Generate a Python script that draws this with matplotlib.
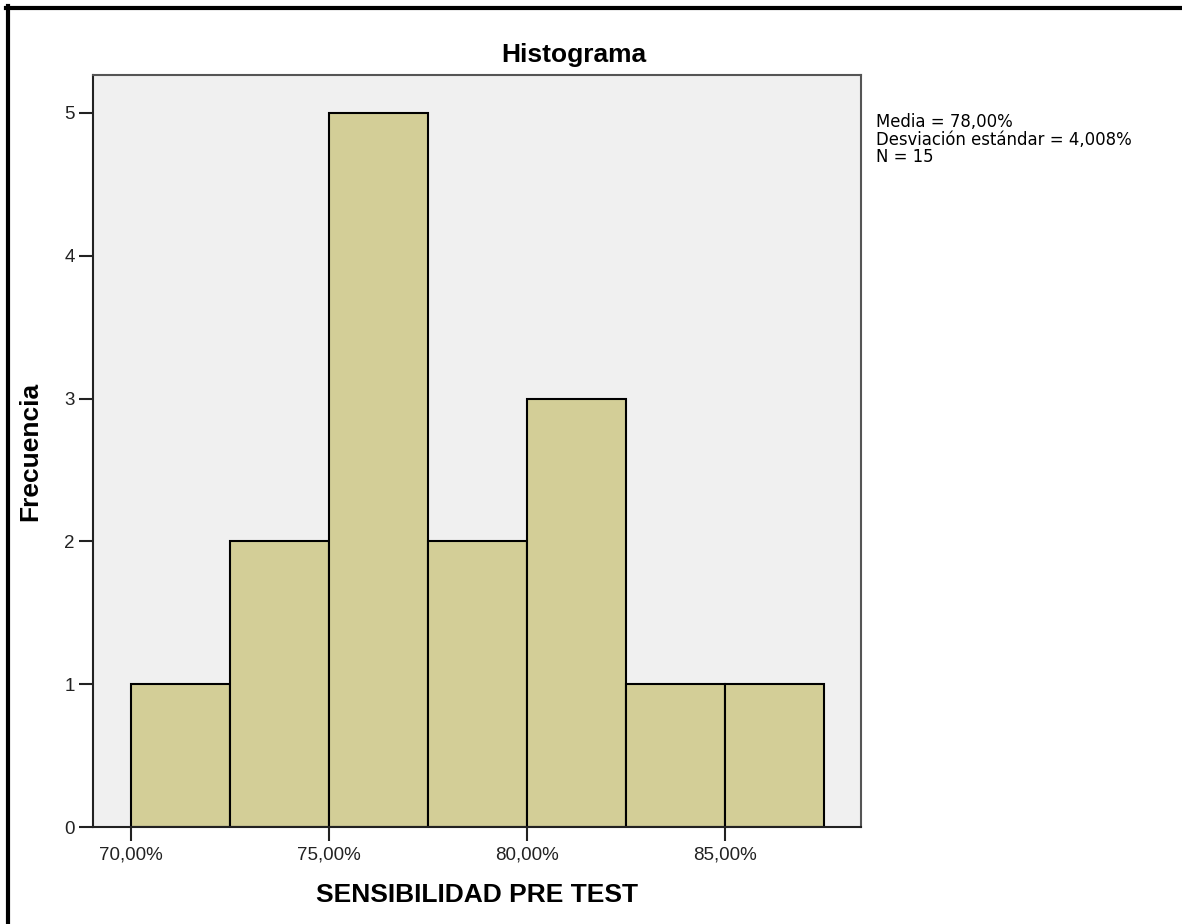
import matplotlib.pyplot as plt
from matplotlib.lines import Line2D

plt.rcParams['font.family'] = ['Liberation Sans', 'DejaVu Sans']

# histogram bins (percent) and counts
bin_edges = [70.0, 72.5, 75.0, 77.5, 80.0, 82.5, 85.0, 87.5]
counts = [1, 2, 5, 2, 3, 1, 1]
xticks = [70, 75, 80, 85]
xtick_labels = ['70,00%', '75,00%', '80,00%', '85,00%']
yticks = [0, 1, 2, 3, 4, 5]
stats_lines = ['Media = 78,00%', 'Desviación estándar = 4,008%', 'N = 15']

fig = plt.figure(figsize=(11.82, 9.24), dpi=100)
ax = fig.add_axes([93 / 1182, 97 / 924, 768 / 1182, 752 / 924])
ax.set_facecolor('#f0f0f0')

widths = [b - a for a, b in zip(bin_edges[:-1], bin_edges[1:])]
ax.bar(bin_edges[:-1], counts, width=widths, align='edge',
       color='#d3ce97', edgecolor='black', linewidth=1.5)

ax.set_xlim(69.04, 88.43)
ax.set_ylim(0, 5.266)
ax.set_xticks(xticks)
ax.set_xticklabels(xtick_labels)
ax.set_yticks(yticks)
ax.tick_params(axis='both', direction='out', length=10, width=1.5,
               labelsize=13.5, labelcolor='#222222', color='#222222')
ax.tick_params(axis='x', pad=4)
ax.tick_params(axis='y', pad=3)
for s in ax.spines.values():
    s.set_color('#555555')
    s.set_linewidth(1.5)
ax.spines['bottom'].set_color('#222222')
ax.spines['left'].set_color('#222222')

# title sits centred over the plot + legend block, like SPSS does
fig.text(574 / 1182, 1 - 55 / 924, 'Histograma', fontsize=19, fontweight='bold',
         ha='center', va='center')
ax.set_xlabel('SENSIBILIDAD PRE TEST', fontsize=19, fontweight='bold', labelpad=14)
ax.set_ylabel('Frecuencia', fontsize=19, fontweight='bold', labelpad=16)

fig.text(876 / 1182, 1 - 113 / 924, '\n'.join(stats_lines), fontsize=11.9,
         family='DejaVu Sans', va='top', ha='left', linespacing=0.98)

# outer frame (left and top only)
fig.add_artist(Line2D([7.5 / 1182, 7.5 / 1182], [0, 1 - 6 / 924],
                      transform=fig.transFigure, color='black', linewidth=3))
fig.add_artist(Line2D([6 / 1182, 1], [1 - 7.5 / 924, 1 - 7.5 / 924],
                      transform=fig.transFigure, color='black', linewidth=3))

fig.savefig('out.png', dpi=100)
